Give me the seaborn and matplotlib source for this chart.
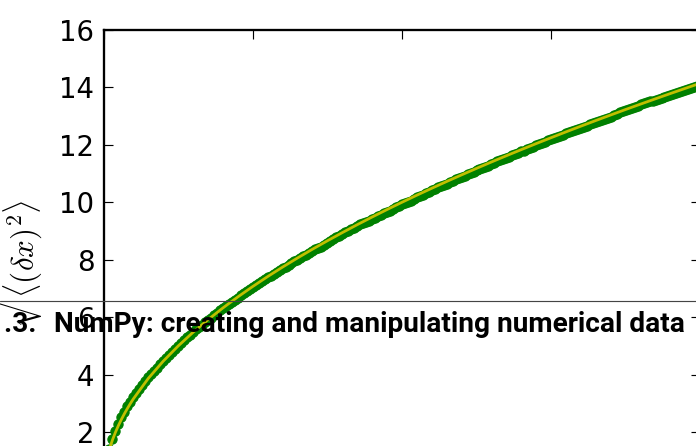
import numpy as np
import pandas as pd
import matplotlib
matplotlib.use("Agg")
import matplotlib.pyplot as plt
from matplotlib.lines import Line2D
import seaborn as sns

# Root-mean-square distance of the random walkers at each time step
t = list(range(200))
rms_distance = [
    0.00, 1.00, 1.43, 1.76, 2.05, 2.29, 2.52, 2.71, 2.90, 3.07,
    3.23, 3.38, 3.52, 3.65, 3.78, 3.91, 4.03, 4.14, 4.25, 4.36,
    4.47, 4.57, 4.68, 4.78, 4.89, 4.99, 5.10, 5.20, 5.30, 5.40,
    5.49, 5.58, 5.66, 5.74, 5.82, 5.90, 5.98, 6.07, 6.15, 6.24,
    6.32, 6.40, 6.47, 6.54, 6.61, 6.68, 6.76, 6.84, 6.92, 6.99,
    7.06, 7.12, 7.18, 7.25, 7.32, 7.39, 7.45, 7.51, 7.58, 7.64,
    7.70, 7.76, 7.83, 7.89, 7.95, 8.00, 8.06, 8.12, 8.18, 8.25,
    8.31, 8.36, 8.41, 8.46, 8.52, 8.58, 8.64, 8.71, 8.78, 8.84,
    8.90, 8.95, 9.00, 9.06, 9.12, 9.18, 9.23, 9.27, 9.31, 9.36,
    9.41, 9.46, 9.52, 9.57, 9.62, 9.66, 9.71, 9.77, 9.82, 9.88,
    9.93, 9.97, 10.01, 10.06, 10.11, 10.17, 10.22, 10.27, 10.32, 10.37,
    10.42, 10.47, 10.52, 10.56, 10.60, 10.65, 10.70, 10.75, 10.80, 10.84,
    10.88, 10.92, 10.97, 11.02, 11.07, 11.12, 11.16, 11.20, 11.24, 11.28,
    11.33, 11.38, 11.43, 11.47, 11.51, 11.55, 11.59, 11.64, 11.69, 11.73,
    11.77, 11.80, 11.84, 11.89, 11.94, 11.98, 12.02, 12.06, 12.11, 12.16,
    12.20, 12.23, 12.26, 12.30, 12.35, 12.40, 12.44, 12.48, 12.51, 12.54,
    12.58, 12.62, 12.66, 12.71, 12.76, 12.80, 12.83, 12.86, 12.90, 12.94,
    12.98, 13.03, 13.08, 13.13, 13.17, 13.20, 13.23, 13.27, 13.31, 13.36,
    13.41, 13.45, 13.48, 13.51, 13.54, 13.57, 13.60, 13.63, 13.66, 13.70,
    13.74, 13.78, 13.81, 13.84, 13.87, 13.90, 13.94, 13.98, 14.02, 14.05,
]

# Theoretical sqrt(t) curve
t_theory = [0, 1, 2, 3, 4, 5, 6, 7, 8, 9, 10, 15, 20, 25, 30, 35, 40, 45,
            50, 55, 60, 65, 70, 75, 80, 85, 90, 95, 100, 105, 110, 115, 120,
            125, 130, 135, 140, 145, 150, 155, 160, 165, 170, 175, 180, 185,
            190, 195, 199]
sqrt_t = [0.000, 1.000, 1.414, 1.732, 2.000, 2.236, 2.449, 2.646, 2.828,
          3.000, 3.162, 3.873, 4.472, 5.000, 5.477, 5.916, 6.325, 6.708,
          7.071, 7.416, 7.746, 8.062, 8.367, 8.660, 8.944, 9.220, 9.487,
          9.747, 10.000, 10.247, 10.488, 10.724, 10.954, 11.180, 11.402,
          11.619, 11.832, 12.042, 12.247, 12.450, 12.649, 12.845, 13.038,
          13.229, 13.416, 13.601, 13.784, 13.964, 14.107]

y_ticks = [0, 2, 4, 6, 8, 10, 12, 14, 16]
x_ticks = [0, 50, 100, 150, 200]

header_number = "1.3."
header_title = "NumPy: creating and manipulating numerical data"

sns.set_style("ticks")
plt.rcParams.update({
    "font.family": ["DejaVu Sans"],
    "mathtext.fontset": "cm",
    "font.size": 12,
    "text.color": "black",
    "axes.labelcolor": "black",
    "axes.linewidth": 1.0,
    "xtick.direction": "in",
    "ytick.direction": "in",
    "xtick.major.size": 4,
    "ytick.major.size": 4,
    "xtick.major.width": 0.5,
    "ytick.major.width": 0.5,
    "xtick.major.pad": 4,
    "ytick.major.pad": 4,
    "xtick.color": "black",
    "ytick.color": "black",
    "xtick.labelcolor": "black",
    "ytick.labelcolor": "black",
    "axes.edgecolor": "black",
})

W, H, DPI = 696, 446, 166
fig = plt.figure(figsize=(W / DPI, H / DPI), dpi=DPI)
fig.patch.set_facecolor("white")

# Axes in pixel terms (it runs past the right and bottom edges of the page)
left_px, top_px, width_px, height_px = 103.5, 29.8, 596.8, 460.0
ax = fig.add_axes([left_px / W, (H - top_px - height_px) / H,
                   width_px / W, height_px / H])

df_walk = pd.DataFrame({"t": t, "rms": rms_distance})
df_theory = pd.DataFrame({"t": t_theory, "sqrt_t": sqrt_t})

green = (0.0, 0.5, 0.0)
yellow = (0.75, 0.75, 0.0)
sns.scatterplot(data=df_walk, x="t", y="rms", ax=ax, color=green,
                edgecolor=green, linewidth=0.5, s=16, marker="o", zorder=2)
sns.lineplot(data=df_theory, x="t", y="sqrt_t", ax=ax, color=yellow,
             linewidth=1.2, zorder=3)

ax.set_xlim(0, 200)
ax.set_ylim(0, 16)
ax.set_xticks(x_ticks)
ax.set_yticks(y_ticks)
ax.tick_params(top=True, right=True, labelsize=12, colors="black")
ax.set_xlabel(r"$t$", fontsize=12)
ax.set_ylabel(r"$\sqrt{\langle (\delta x)^2 \rangle}$", fontsize=13.5,
              labelpad=6)

# Running page header printed across the figure
y_rule = 1 - 300.5 / H
fig.add_artist(Line2D([0, 1], [y_rule, y_rule], transform=fig.transFigure,
                      color="#444444", linewidth=0.5, zorder=10))

hdr_font = ["Roboto", "DejaVu Sans"]
baseline = 1 - 332.0 / H
title_txt = fig.text(54 / W, baseline, header_title, ha="left",
                     va="baseline", fontsize=11.5, fontweight="bold",
                     family=hdr_font, color="black", zorder=11)
num_txt = fig.text(37 / W, baseline, header_number, ha="right",
                   va="baseline", fontsize=11.5, fontweight="bold",
                   family=hdr_font, color="black", zorder=11)

renderer = fig.canvas.get_renderer()
bb = title_txt.get_window_extent(renderer)
scale = (684 - 54) / bb.width
title_txt.set_fontsize(11.5 * scale)
num_txt.set_fontsize(11.5 * scale)

fig.savefig("out.png", dpi=DPI, facecolor="white")
